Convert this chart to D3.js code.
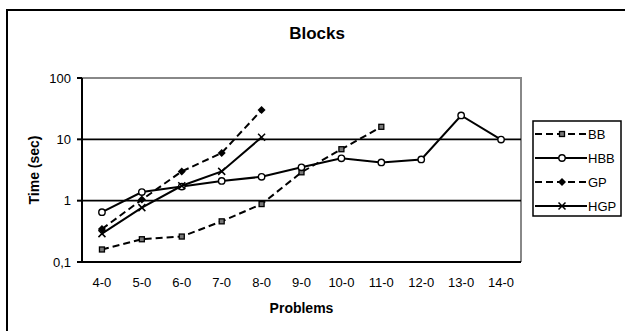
<!DOCTYPE html>
<html>
<head>
<meta charset="utf-8">
<script src="https://cdn.jsdelivr.net/npm/d3@7"></script>
<style>
  body { margin: 0; background: #fff; }
  text { font-family: "Liberation Sans", Arial, sans-serif; fill: #000; }
  .tick-label { font-size: 13px; }
  .title { font-size: 17px; font-weight: bold; }
  .axis-label { font-size: 14px; font-weight: bold; }
  .legend-label { font-size: 13px; }
</style>
</head>
<body>
<div id="canvas"></div>
<script>
"use strict";

let svgWidth = 625;
let svgHeight = 331;

/* Data */
let problems = ["4-0", "5-0", "6-0", "7-0", "8-0", "9-0", "10-0", "11-0", "12-0", "13-0", "14-0"];
let yTicks = [0.1, 1, 10, 100];
let yTickLabels = ["0,1", "1", "10", "100"];

let bbTimes  = [0.16, 0.235, 0.26, 0.46, 0.88, 2.9, 6.9, 16];
let hbbTimes = [0.65, 1.38, 1.7, 2.1, 2.45, 3.5, 4.9, 4.2, 4.7, 24.5, 9.9];
let gpTimes  = [0.345, 1.04, 3.0, 6.0, 30];
let hgpTimes = [0.29, 0.77, 1.75, 3.0, 10.8];

let seriesNames = ["BB", "HBB", "GP", "HGP"];
let seriesData = [bbTimes, hbbTimes, gpTimes, hgpTimes];
let seriesDashed = [true, false, true, false];
let seriesMarker = ["square", "circle", "diamond", "cross"];

/* Plot area */
let plotLeft = 82;
let plotRight = 521;
let plotTop = 78;
let plotBottom = 262;

let svg = d3.select("#canvas")
  .append("svg")
  .attr("width", svgWidth)
  .attr("height", svgHeight);

/* Outer frame (runs off the right and bottom edges) */
svg.append("rect")
  .attr("x", 7)
  .attr("y", 10)
  .attr("width", 700)
  .attr("height", 400)
  .attr("fill", "none")
  .attr("stroke", "#000")
  .attr("stroke-width", 2);

/* Scales */
let xScale = d3.scaleBand()
  .domain(problems)
  .range([plotLeft, plotRight]);

let yScale = d3.scaleLog()
  .domain([0.1, 100])
  .range([plotBottom, plotTop]);

let xPos = i => xScale(problems[i]) + xScale.bandwidth() / 2;

/* Plot border: grey top and right */
svg.append("path")
  .attr("d", `M${plotLeft},${plotTop}H${plotRight}V${plotBottom}`)
  .attr("fill", "none")
  .attr("stroke", "#888")
  .attr("stroke-width", 2);

/* Gridlines */
svg.selectAll("line.grid")
  .data([1, 10])
  .enter()
  .append("line")
  .attr("x1", plotLeft)
  .attr("x2", plotRight)
  .attr("y1", d => yScale(d))
  .attr("y2", d => yScale(d))
  .attr("stroke", "#000")
  .attr("stroke-width", 1.6);

/* Axes lines */
svg.append("line")
  .attr("x1", plotLeft)
  .attr("x2", plotRight)
  .attr("y1", plotBottom)
  .attr("y2", plotBottom)
  .attr("stroke", "#000")
  .attr("stroke-width", 2);

svg.append("line")
  .attr("x1", plotLeft)
  .attr("x2", plotLeft)
  .attr("y1", plotTop)
  .attr("y2", plotBottom)
  .attr("stroke", "#000")
  .attr("stroke-width", 2);

/* Y ticks */
yTicks.forEach((v, i) => {
  svg.append("line")
    .attr("x1", plotLeft - 5)
    .attr("x2", plotLeft)
    .attr("y1", yScale(v))
    .attr("y2", yScale(v))
    .attr("stroke", "#000")
    .attr("stroke-width", 2);

  svg.append("text")
    .attr("x", plotLeft - 11)
    .attr("y", yScale(v) + 4.5)
    .attr("text-anchor", "end")
    .classed("tick-label", true)
    .text(yTickLabels[i]);
});

/* X tick labels */
problems.forEach((p, i) => {
  svg.append("text")
    .attr("x", xPos(i))
    .attr("y", 287)
    .attr("text-anchor", "middle")
    .classed("tick-label", true)
    .text(p);
});

/* Title and axis labels */
svg.append("text")
  .attr("x", 317)
  .attr("y", 39)
  .attr("text-anchor", "middle")
  .classed("title", true)
  .text("Blocks");

svg.append("text")
  .attr("x", (plotLeft + plotRight) / 2)
  .attr("y", 313)
  .attr("text-anchor", "middle")
  .classed("axis-label", true)
  .text("Problems");

svg.append("text")
  .attr("transform", `translate(39, ${(plotTop + plotBottom) / 2}) rotate(-90)`)
  .attr("text-anchor", "middle")
  .classed("axis-label", true)
  .text("Time (sec)");

/* Markers */
function drawMarker(g, type, x, y) {
  if (type === "square") {
    g.append("rect")
      .attr("x", x - 2.5).attr("y", y - 2.5)
      .attr("width", 5).attr("height", 5)
      .attr("fill", "#777").attr("stroke", "#000").attr("stroke-width", 1.3);
  } else if (type === "circle") {
    g.append("circle")
      .attr("cx", x).attr("cy", y).attr("r", 3.2)
      .attr("fill", "#fff").attr("stroke", "#000").attr("stroke-width", 1.4);
  } else if (type === "diamond") {
    g.append("path")
      .attr("d", `M${x},${y - 4}L${x + 4},${y}L${x},${y + 4}L${x - 4},${y}Z`)
      .attr("fill", "#000");
  } else if (type === "cross") {
    g.append("path")
      .attr("d", `M${x - 3.5},${y - 3.5}L${x + 3.5},${y + 3.5}M${x - 3.5},${y + 3.5}L${x + 3.5},${y - 3.5}`)
      .attr("stroke", "#000").attr("stroke-width", 1.5);
  }
}

/* Lines */
let line = d3.line()
  .x((d, i) => xPos(i))
  .y(d => yScale(d));

seriesData.forEach((values, s) => {
  let g = svg.append("g");
  g.append("path")
    .datum(values)
    .attr("fill", "none")
    .attr("stroke", "#000")
    .attr("stroke-width", 2)
    .attr("stroke-dasharray", seriesDashed[s] ? "7,4" : null)
    .attr("d", line);
  values.forEach((v, i) => drawMarker(g, seriesMarker[s], xPos(i), yScale(v)));
});

/* Legend */
let legendX = 533;
let legendY = 121;
svg.append("rect")
  .attr("x", legendX)
  .attr("y", legendY)
  .attr("width", 88)
  .attr("height", 95)
  .attr("fill", "#fff")
  .attr("stroke", "#000")
  .attr("stroke-width", 1.5);

let legendRows = [134, 158, 182, 206];
seriesNames.forEach((name, s) => {
  let yPos = legendRows[s];
  let g = svg.append("g");
  g.append("line")
    .attr("x1", legendX + 2)
    .attr("x2", legendX + 54)
    .attr("y1", yPos)
    .attr("y2", yPos)
    .attr("stroke", "#000")
    .attr("stroke-width", 2)
    .attr("stroke-dasharray", seriesDashed[s] ? "7,4" : null);
  drawMarker(g, seriesMarker[s], legendX + 29, yPos);
  g.append("text")
    .attr("x", legendX + 55)
    .attr("y", yPos + 5)
    .classed("legend-label", true)
    .text(name);
});
</script>
</body>
</html>
